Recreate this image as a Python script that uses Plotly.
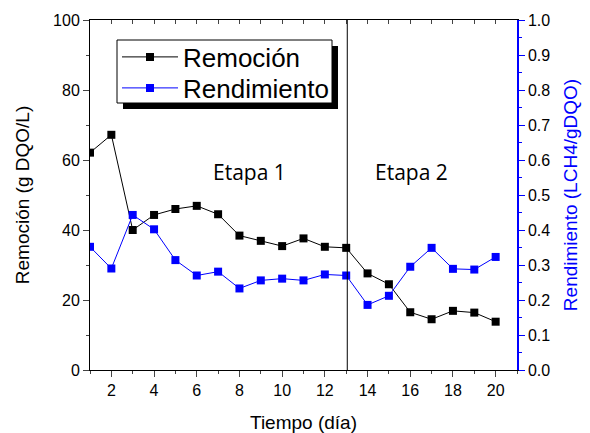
import plotly.graph_objects as go

dias = list(range(1, 21))
remocion = [62.1, 67.2, 40.0, 44.3, 46.0, 46.9, 44.5, 38.4, 36.9, 35.4, 37.6, 35.2, 34.9,
            27.6, 24.5, 16.5, 14.5, 16.9, 16.4, 13.8]
rendimiento = [0.352, 0.290, 0.443, 0.402, 0.314, 0.270, 0.281, 0.233, 0.256, 0.261, 0.256,
               0.273, 0.270, 0.186, 0.212, 0.295, 0.349, 0.289, 0.287, 0.323]
cambio_etapa = 13.05

fig = go.Figure()
fig.add_trace(go.Scatter(x=dias, y=remocion, name="Remoción", mode="lines+markers",
                         line=dict(color="black", width=1), legend="legend",
                         marker=dict(symbol="square", size=8, color="black")))
fig.add_trace(go.Scatter(x=dias, y=rendimiento, name="Rendimiento", mode="lines+markers",
                         yaxis="y2", line=dict(color="blue", width=1), legend="legend2",
                         marker=dict(symbol="square", size=8, color="blue")))

AR = "Arial, Liberation Sans"
font_ax = dict(family=AR, size=16, color="black")


def px_x(p):
    return (p - 90) / 427


def px_y(p):
    return (370 - p) / 350


leg_common = dict(xanchor="left", yanchor="middle", bgcolor="rgba(0,0,0,0)", borderwidth=0,
                  font=dict(family=AR, size=26, color="black"), itemwidth=56)

# page body has an 8px margin, so the figure is 8px smaller and offset
fig.update_layout(
    width=582, height=425,
    margin=dict(l=82, r=73, t=12, b=63),
    paper_bgcolor="white", plot_bgcolor="white",
    font=dict(family=AR, color="black"),
    showlegend=True,
    legend=dict(x=px_x(117), y=px_y(57), **leg_common),
    legend2=dict(x=px_x(117), y=px_y(88), **leg_common),
    xaxis=dict(range=[1, 21], dtick=2, tick0=0, ticks="outside", ticklen=6,
               minor=dict(dtick=1, ticks="outside", ticklen=3),
               showline=True, linecolor="black", linewidth=1, showgrid=False, zeroline=False,
               tickfont=font_ax, automargin=False,
               title=dict(text="Tiempo (día)", font=dict(family=AR, size=19, color="black"), standoff=22)),
    xaxis2=dict(range=[1, 21], overlaying="x", side="top", dtick=1, ticks="inside", ticklen=4,
                showticklabels=False, showline=True, linecolor="black", showgrid=False,
                zeroline=False, automargin=False),
    yaxis=dict(range=[0, 100], dtick=20, ticks="outside", ticklen=6,
               minor=dict(dtick=10, ticks="outside", ticklen=3),
               showline=True, linecolor="black", linewidth=1, showgrid=False, zeroline=False,
               tickfont=font_ax, automargin=False,
               title=dict(text="Remoción (g DQO/L)", font=dict(family=AR, size=19, color="black"), standoff=18)),
    yaxis2=dict(range=[0, 1], dtick=0.1, tickformat=".1f", overlaying="y", side="right",
                ticks="outside", ticklen=6, tickcolor="blue",
                minor=dict(dtick=0.05, ticks="outside", ticklen=3, tickcolor="blue"),
                showline=True, linecolor="blue", linewidth=1.5, showgrid=False, zeroline=False,
                tickfont=font_ax, automargin=False,
                title=dict(text="Rendimiento (LCH4/gDQO)", font=dict(family=AR, size=19, color="blue"), standoff=14)),
)
# dummy trace for top axis
fig.add_trace(go.Scatter(x=[1, 21], y=[None, None], xaxis="x2", showlegend=False, hoverinfo="skip"))

fig.add_shape(type="line", x0=cambio_etapa, x1=cambio_etapa, y0=0, y1=1, xref="x", yref="paper",
              line=dict(color="black", width=1))
# legend shadow and box
fig.add_shape(type="rect", xref="paper", yref="paper", x0=px_x(123), x1=px_x(338),
              y0=px_y(109), y1=px_y(46), fillcolor="black", line=dict(width=0), layer="below")
fig.add_shape(type="rect", xref="paper", yref="paper", x0=px_x(117), x1=px_x(332),
              y0=px_y(103), y1=px_y(40), fillcolor="white", line=dict(width=1, color="black"), layer="below")

fig.add_annotation(x=8.45, y=56.6, text="Etapa 1", showarrow=False, xref="x", yref="y",
                   font=dict(family="Open Sans", size=21, color="black"))
fig.add_annotation(x=16.08, y=56.6, text="Etapa 2", showarrow=False, xref="x", yref="y",
                   font=dict(family="Open Sans", size=21, color="black"))

fig.write_html("out.html")
